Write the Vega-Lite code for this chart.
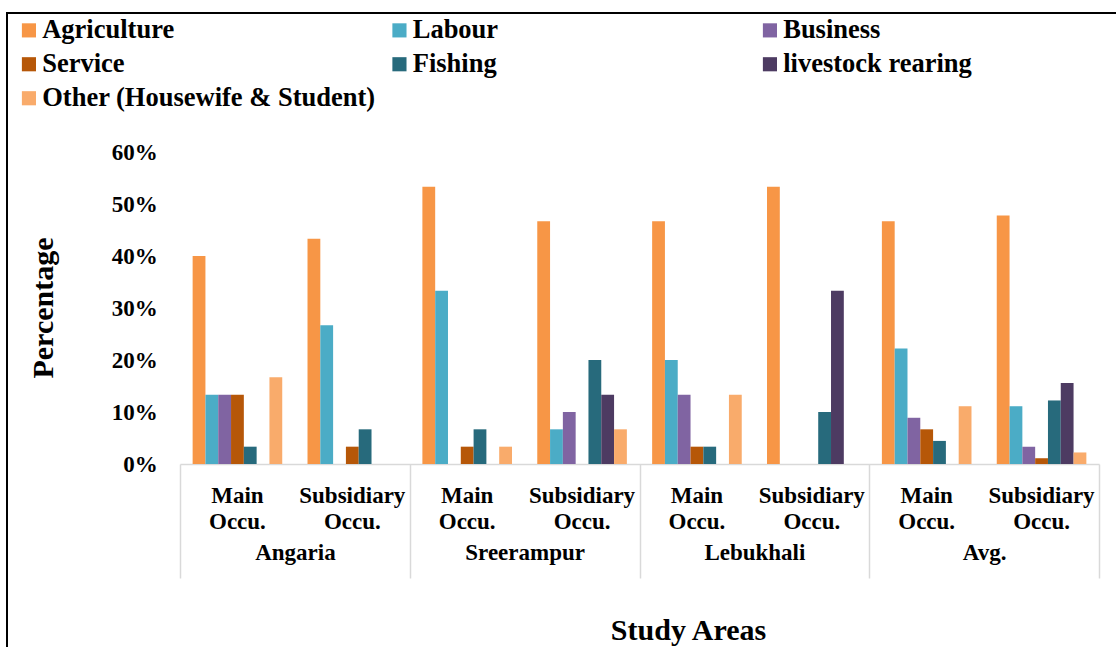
{
  "$schema": "https://vega.github.io/schema/vega-lite/v6.json",
  "width": 1112,
  "height": 639,
  "autosize": {"type": "none"},
  "padding": {"left": 7, "top": 13, "right": -3, "bottom": -5},
  "background": "white",
  "config": {"view": {"stroke": "#000000", "strokeWidth": 2}, "font": "Liberation Serif"},
  "data": {
    "values": [
      {"area": "Angaria", "grp": "Angaria|Main", "occ": "Agriculture", "pct": 40},
      {"area": "Angaria", "grp": "Angaria|Main", "occ": "Labour", "pct": 13.33},
      {"area": "Angaria", "grp": "Angaria|Main", "occ": "Business", "pct": 13.33},
      {"area": "Angaria", "grp": "Angaria|Main", "occ": "Service", "pct": 13.33},
      {"area": "Angaria", "grp": "Angaria|Main", "occ": "Fishing", "pct": 3.33},
      {"area": "Angaria", "grp": "Angaria|Main", "occ": "livestock rearing", "pct": 0},
      {"area": "Angaria", "grp": "Angaria|Main", "occ": "Other (Housewife & Student)", "pct": 16.67},
      {"area": "Angaria", "grp": "Angaria|Sub", "occ": "Agriculture", "pct": 43.33},
      {"area": "Angaria", "grp": "Angaria|Sub", "occ": "Labour", "pct": 26.67},
      {"area": "Angaria", "grp": "Angaria|Sub", "occ": "Business", "pct": 0},
      {"area": "Angaria", "grp": "Angaria|Sub", "occ": "Service", "pct": 3.33},
      {"area": "Angaria", "grp": "Angaria|Sub", "occ": "Fishing", "pct": 6.67},
      {"area": "Angaria", "grp": "Angaria|Sub", "occ": "livestock rearing", "pct": 0},
      {"area": "Angaria", "grp": "Angaria|Sub", "occ": "Other (Housewife & Student)", "pct": 0},
      {"area": "Sreerampur", "grp": "Sreerampur|Main", "occ": "Agriculture", "pct": 53.33},
      {"area": "Sreerampur", "grp": "Sreerampur|Main", "occ": "Labour", "pct": 33.33},
      {"area": "Sreerampur", "grp": "Sreerampur|Main", "occ": "Business", "pct": 0},
      {"area": "Sreerampur", "grp": "Sreerampur|Main", "occ": "Service", "pct": 3.33},
      {"area": "Sreerampur", "grp": "Sreerampur|Main", "occ": "Fishing", "pct": 6.67},
      {"area": "Sreerampur", "grp": "Sreerampur|Main", "occ": "livestock rearing", "pct": 0},
      {"area": "Sreerampur", "grp": "Sreerampur|Main", "occ": "Other (Housewife & Student)", "pct": 3.33},
      {"area": "Sreerampur", "grp": "Sreerampur|Sub", "occ": "Agriculture", "pct": 46.67},
      {"area": "Sreerampur", "grp": "Sreerampur|Sub", "occ": "Labour", "pct": 6.67},
      {"area": "Sreerampur", "grp": "Sreerampur|Sub", "occ": "Business", "pct": 10},
      {"area": "Sreerampur", "grp": "Sreerampur|Sub", "occ": "Service", "pct": 0},
      {"area": "Sreerampur", "grp": "Sreerampur|Sub", "occ": "Fishing", "pct": 20},
      {"area": "Sreerampur", "grp": "Sreerampur|Sub", "occ": "livestock rearing", "pct": 13.33},
      {"area": "Sreerampur", "grp": "Sreerampur|Sub", "occ": "Other (Housewife & Student)", "pct": 6.67},
      {"area": "Lebukhali", "grp": "Lebukhali|Main", "occ": "Agriculture", "pct": 46.67},
      {"area": "Lebukhali", "grp": "Lebukhali|Main", "occ": "Labour", "pct": 20},
      {"area": "Lebukhali", "grp": "Lebukhali|Main", "occ": "Business", "pct": 13.33},
      {"area": "Lebukhali", "grp": "Lebukhali|Main", "occ": "Service", "pct": 3.33},
      {"area": "Lebukhali", "grp": "Lebukhali|Main", "occ": "Fishing", "pct": 3.33},
      {"area": "Lebukhali", "grp": "Lebukhali|Main", "occ": "livestock rearing", "pct": 0},
      {"area": "Lebukhali", "grp": "Lebukhali|Main", "occ": "Other (Housewife & Student)", "pct": 13.33},
      {"area": "Lebukhali", "grp": "Lebukhali|Sub", "occ": "Agriculture", "pct": 53.33},
      {"area": "Lebukhali", "grp": "Lebukhali|Sub", "occ": "Labour", "pct": 0},
      {"area": "Lebukhali", "grp": "Lebukhali|Sub", "occ": "Business", "pct": 0},
      {"area": "Lebukhali", "grp": "Lebukhali|Sub", "occ": "Service", "pct": 0},
      {"area": "Lebukhali", "grp": "Lebukhali|Sub", "occ": "Fishing", "pct": 10},
      {"area": "Lebukhali", "grp": "Lebukhali|Sub", "occ": "livestock rearing", "pct": 33.33},
      {"area": "Lebukhali", "grp": "Lebukhali|Sub", "occ": "Other (Housewife & Student)", "pct": 0},
      {"area": "Avg.", "grp": "Avg.|Main", "occ": "Agriculture", "pct": 46.67},
      {"area": "Avg.", "grp": "Avg.|Main", "occ": "Labour", "pct": 22.22},
      {"area": "Avg.", "grp": "Avg.|Main", "occ": "Business", "pct": 8.89},
      {"area": "Avg.", "grp": "Avg.|Main", "occ": "Service", "pct": 6.67},
      {"area": "Avg.", "grp": "Avg.|Main", "occ": "Fishing", "pct": 4.44},
      {"area": "Avg.", "grp": "Avg.|Main", "occ": "livestock rearing", "pct": 0},
      {"area": "Avg.", "grp": "Avg.|Main", "occ": "Other (Housewife & Student)", "pct": 11.11},
      {"area": "Avg.", "grp": "Avg.|Sub", "occ": "Agriculture", "pct": 47.78},
      {"area": "Avg.", "grp": "Avg.|Sub", "occ": "Labour", "pct": 11.11},
      {"area": "Avg.", "grp": "Avg.|Sub", "occ": "Business", "pct": 3.33},
      {"area": "Avg.", "grp": "Avg.|Sub", "occ": "Service", "pct": 1.11},
      {"area": "Avg.", "grp": "Avg.|Sub", "occ": "Fishing", "pct": 12.22},
      {"area": "Avg.", "grp": "Avg.|Sub", "occ": "livestock rearing", "pct": 15.56},
      {"area": "Avg.", "grp": "Avg.|Sub", "occ": "Other (Housewife & Student)", "pct": 2.22}
    ]
  },
  "layer": [
    {
      "mark": {"type": "bar"},
      "encoding": {
        "x": {
          "field": "grp",
          "type": "nominal",
          "scale": {
            "domain": ["Angaria|Main", "Angaria|Sub", "Sreerampur|Main", "Sreerampur|Sub", "Lebukhali|Main", "Lebukhali|Sub", "Avg.|Main", "Avg.|Sub"],
            "range": [173, 1092],
            "paddingInner": 0.22,
            "paddingOuter": 0.11
          },
          "axis": {
            "orient": "bottom",
            "offset": -188,
            "title": null,
            "labelExpr": "indexof(datum.value, 'Main') >= 0 ? ['Main', 'Occu.'] : ['Subsidiary', 'Occu.']",
            "labelAngle": 0,
            "labelFont": "Liberation Serif",
            "labelFontWeight": "bold",
            "labelFontSize": 23,
            "labelColor": "#000000",
            "labelPadding": 38,
            "labelBaseline": "alphabetic",
            "labelLineHeight": 26.6,
            "labelOverlap": false,
            "ticks": false,
            "tickSize": 0,
            "domainColor": "#d9d9d9",
            "domainWidth": 1.5
          }
        },
        "xOffset": {
          "field": "occ",
          "type": "nominal",
          "scale": {
            "domain": ["Agriculture", "Labour", "Business", "Service", "Fishing", "livestock rearing", "Other (Housewife & Student)"],
            "paddingInner": 0,
            "paddingOuter": 0
          }
        },
        "y": {
          "field": "pct",
          "type": "quantitative",
          "scale": {"domain": [0, 60], "range": [451, 139]},
          "axis": {
            "title": "Percentage",
            "offset": -173,
            "values": [0, 10, 20, 30, 40, 50, 60],
            "labelExpr": "datum.value + '%'",
            "grid": false,
            "domain": false,
            "ticks": false,
            "tickSize": 0,
            "labelPadding": 22.7,
            "labelFont": "Liberation Serif",
            "labelFontSize": 23,
            "labelFontWeight": "bold",
            "labelColor": "#000000",
            "titleFont": "Liberation Serif",
            "titleFontSize": 30,
            "titleFontWeight": "bold",
            "titleColor": "#000000",
            "titleAngle": -90,
            "titleX": -128,
            "titleY": 294.5,
            "titleAlign": "center",
            "titleBaseline": "alphabetic"
          }
        },
        "color": {
          "field": "occ",
          "type": "nominal",
          "scale": {
            "domain": ["Agriculture", "Labour", "Business", "Service", "Fishing", "livestock rearing", "Other (Housewife & Student)"],
            "range": ["#F79646", "#4BACC6", "#8064A2", "#B65708", "#276A7C", "#4D3B62", "#F9AB6B"]
          },
          "legend": {
            "title": null,
            "orient": "none",
            "legendX": 8.7,
            "legendY": 4,
            "direction": "horizontal",
            "columns": 3,
            "gridAlign": "all",
            "columnPadding": 10.5,
            "rowPadding": 7,
            "symbolType": "square",
            "symbolSize": 200,
            "symbolStrokeWidth": 0,
            "labelFont": "Liberation Serif",
            "labelFontSize": 26.5,
            "labelFontWeight": "bold",
            "labelColor": "#000000",
            "labelOffset": 0,
            "labelLimit": 500
          }
        }
      }
    },
    {
      "mark": {"type": "text", "text": ""},
      "encoding": {
        "x": {
          "field": "area",
          "type": "nominal",
          "scale": {
            "domain": ["Angaria", "Sreerampur", "Lebukhali", "Avg."],
            "range": [173, 1092],
            "paddingInner": 0,
            "paddingOuter": 0
          },
          "axis": {
            "orient": "bottom",
            "offset": -188,
            "title": "Study Areas",
            "titleFont": "Liberation Serif",
            "titleFontSize": 30,
            "titleFontWeight": "bold",
            "titleColor": "#000000",
            "titleX": 681,
            "titleY": 175,
            "titleAlign": "center",
            "titleBaseline": "alphabetic",
            "domain": false,
            "ticks": true,
            "tickBand": "extent",
            "tickSize": 114,
            "tickColor": "#d9d9d9",
            "tickWidth": 1.5,
            "labelAngle": 0,
            "labelFont": "Liberation Serif",
            "labelFontWeight": "bold",
            "labelFontSize": 23,
            "labelColor": "#000000",
            "labelPadding": -18.7,
            "labelBaseline": "alphabetic",
            "labelOverlap": false
          }
        }
      }
    }
  ],
  "resolve": {"scale": {"x": "independent"}, "axis": {"x": "independent"}}
}
